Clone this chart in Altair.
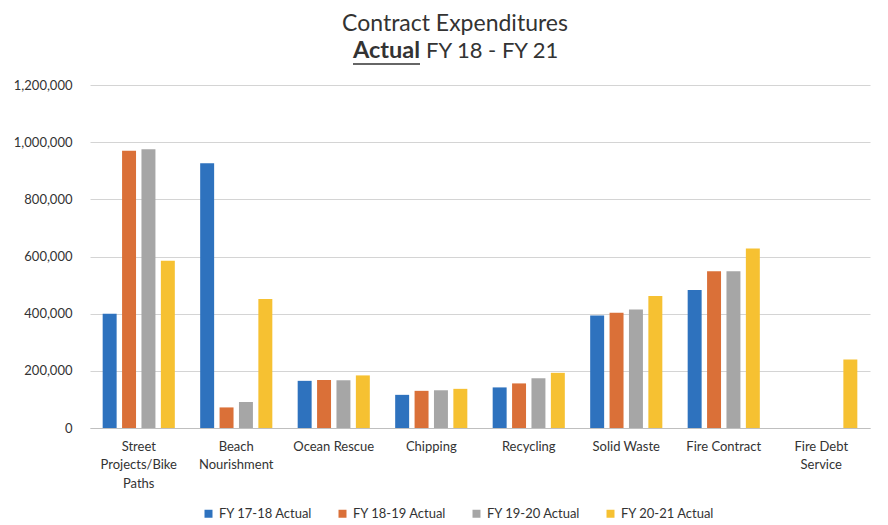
import altair as alt
import pandas as pd

categories = ["Street\nProjects/Bike\nPaths", "Beach\nNourishment", "Ocean Rescue", "Chipping",
              "Recycling", "Solid Waste", "Fire Contract", "Fire Debt\nService"]
series = ["FY 17-18 Actual", "FY 18-19 Actual", "FY 19-20 Actual", "FY 20-21 Actual"]
fy1718 = [400000, 926000, 165000, 116000, 142000, 394000, 483000, 0]
fy1819 = [970000, 72000, 168000, 130000, 156000, 403000, 548000, 0]
fy1920 = [975000, 91000, 167000, 132000, 174000, 415000, 548000, 0]
fy2021 = [585000, 451000, 184000, 137000, 193000, 462000, 628000, 240000]
colors = ["#2E72BE", "#DA7038", "#A6A6A6", "#F6C132"]
y_ticks = [0, 200000, 400000, 600000, 800000, 1000000, 1200000]

rows = []
for s, vals in zip(series, [fy1718, fy1819, fy1920, fy2021]):
    for c, v in zip(categories, vals):
        rows.append({"category": c, "series": s, "value": v})
df = pd.DataFrame(rows)

FONT = "Lato"

bars = alt.Chart(df).mark_bar().encode(
    x=alt.X("category:N", sort=categories,
            scale=alt.Scale(paddingInner=0.26, paddingOuter=0.13),
            axis=alt.Axis(title=None, labelExpr="split(datum.label, '\\n')", labelAngle=0,
                          ticks=False, domainColor="#bfbfbf", labelPadding=12,
                          labelFontSize=13, labelLineHeight=18.5, labelColor="#333333",
                          labelFont=FONT)),
    xOffset=alt.XOffset("series:N", sort=series, scale=alt.Scale(paddingInner=0.28)),
    y=alt.Y("value:Q", scale=alt.Scale(domain=[0, 1200000]),
            axis=alt.Axis(values=y_ticks, format=",.0f", title=None, domain=False, ticks=False,
                          gridColor="#d4d4d4", labelPadding=18, labelFontSize=13,
                          labelColor="#333333", labelFont=FONT)),
    color=alt.Color("series:N", sort=series,
                    scale=alt.Scale(domain=series, range=colors),
                    legend=alt.Legend(orient="none", direction="horizontal", legendX=112,
                                      legendY=422, title=None, symbolType="square",
                                      symbolSize=64, labelFontSize=13, labelFont=FONT,
                                      labelColor="#333333", columnPadding=23,
                                      symbolStrokeWidth=0)),
)

title1 = alt.Chart(pd.DataFrame({"t": ["Contract Expenditures"]})).mark_text(
    font=FONT, fontSize=23, color="#333333", align="center", baseline="middle"
).encode(text="t:N", x=alt.value(365), y=alt.value(-61))

title2a = alt.Chart(pd.DataFrame({"t": ["Actual"]})).mark_text(
    font=FONT, fontSize=23.5, fontWeight="bold", color="#333333", align="right", baseline="middle"
).encode(text="t:N", x=alt.value(330), y=alt.value(-34))

title2b = alt.Chart(pd.DataFrame({"t": ["FY 18 - FY 21"]})).mark_text(
    font=FONT, fontSize=22, color="#333333", align="left", baseline="middle"
).encode(text="t:N", x=alt.value(336), y=alt.value(-34))

underline = alt.Chart(pd.DataFrame({"t": [1]})).mark_rule(color="#333333", strokeWidth=1.5).encode(
    x=alt.value(263), x2=alt.value(330), y=alt.value(-21)
)

chart = alt.layer(bars, title1, title2a, title2b, underline).properties(
    width=780, height=343,
    autosize=alt.AutoSizeParams(type="none"),
    padding={"left": 82, "top": 77, "right": 2, "bottom": 96},
).configure_view(stroke=None)

chart.save("out.html", embed_options={"renderer": "svg", "actions": False})
